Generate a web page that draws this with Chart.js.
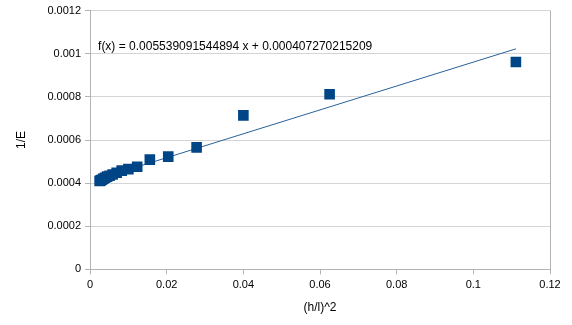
<!DOCTYPE html>
<html>
<head>
<meta charset="utf-8">
<script src="https://cdn.jsdelivr.net/npm/chart.js"></script>
<style>
    html, body { margin: 0; padding: 0; background: #ffffff; }
    #wrap { width: 572px; height: 325px; }
</style>
</head>
<body>
<div id="wrap"><canvas id="chart" width="572" height="325"></canvas></div>
<script>
// Measured points: (h/l)^2 against 1/E
const xValues = [0.1111, 0.0625, 0.04, 0.0278, 0.0204, 0.0156, 0.0123, 0.01, 0.00826, 0.00694,
    0.0059, 0.0051, 0.00444, 0.0039, 0.00346, 0.00309, 0.00277, 0.0025];
const yValues = [0.000962, 0.000812, 0.000714, 0.000566, 0.000523, 0.000509, 0.000476, 0.000465, 0.000458, 0.000448,
    0.00044, 0.000434, 0.00043, 0.000425, 0.00042, 0.000416, 0.000413, 0.00041];

// Linear trend line as printed on the chart
const trendSlope = 0.005539091544894;
const trendIntercept = 0.000407270215209;
const trendLabel = 'f(x) = 0.005539091544894 x + 0.000407270215209';

const xTicks = [0, 0.02, 0.04, 0.06, 0.08, 0.1, 0.12];
const yTicks = [0, 0.0002, 0.0004, 0.0006, 0.0008, 0.001, 0.0012];

const blue = '#004586';
const font = "'Liberation Sans', Arial, sans-serif";

const points = xValues.map((x, i) => ({ x: x, y: yValues[i] }));
const xMin = Math.min(...xValues);
const xMax = Math.max(...xValues);
const trendPoints = [
    { x: xMin, y: trendSlope * xMin + trendIntercept },
    { x: xMax, y: trendSlope * xMax + trendIntercept }
];

// draws the regression equation inside the plot
const equationPlugin = {
    id: 'equation',
    afterDatasetsDraw(chart) {
        const ctx = chart.ctx;
        const area = chart.chartArea;
        ctx.save();
        ctx.font = '12px ' + font;
        ctx.fillStyle = '#000000';
        ctx.textBaseline = 'alphabetic';
        ctx.fillText(trendLabel, area.left + 8, area.top + 39);
        ctx.restore();
    }
};

new Chart(document.getElementById('chart'), {
    type: 'scatter',
    data: {
        datasets: [
            {
                data: points,
                pointStyle: 'rect',
                pointRadius: 7.5,
                pointHoverRadius: 7.5,
                backgroundColor: blue,
                borderColor: blue,
                borderWidth: 0
            },
            {
                type: 'line',
                data: trendPoints,
                borderColor: '#2a6099',
                borderWidth: 1,
                pointRadius: 0,
                fill: false
            }
        ]
    },
    options: {
        responsive: false,
        animation: false,
        layout: { padding: { left: 10, right: 22, top: 6, bottom: 6 } },
        plugins: {
            legend: { display: false },
            tooltip: { enabled: false }
        },
        scales: {
            x: {
                type: 'linear',
                min: 0,
                max: 0.12,
                afterBuildTicks: axis => { axis.ticks = xTicks.map(v => ({ value: v })); },
                ticks: {
                    color: '#000000',
                    font: { family: font, size: 11 },
                    padding: 4,
                    maxRotation: 0,
                    callback: v => String(Number(v.toFixed(2)))
                },
                grid: {
                    color: c => (c.index === xTicks.length - 1 ? '#b3b3b3' : 'rgba(0,0,0,0)'),
                    tickColor: '#b3b3b3',
                    tickLength: 5
                },
                border: { color: '#b3b3b3' },
                title: {
                    display: true,
                    text: '(h/l)^2',
                    color: '#000000',
                    font: { family: font, size: 12 },
                    padding: { top: 5 }
                }
            },
            y: {
                type: 'linear',
                min: 0,
                max: 0.0012,
                afterBuildTicks: axis => { axis.ticks = yTicks.map(v => ({ value: v })); },
                ticks: {
                    color: '#000000',
                    font: { family: font, size: 11 },
                    padding: 4,
                    callback: v => String(Number(v.toFixed(4)))
                },
                grid: {
                    color: '#d4d4d4',
                    tickColor: '#b3b3b3',
                    tickLength: 5
                },
                border: { color: '#b3b3b3' },
                title: {
                    display: true,
                    text: '1/E',
                    color: '#000000',
                    font: { family: font, size: 12 },
                    padding: { bottom: 15 }
                }
            }
        }
    },
    plugins: [equationPlugin]
});
</script>
</body>
</html>
